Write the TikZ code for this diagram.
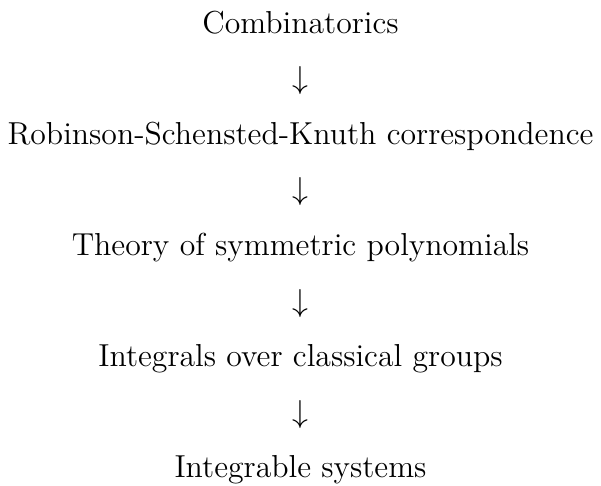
\documentclass[tikz,border=0pt]{standalone}
\usepackage{amsmath}
\begin{document}
\begin{tikzpicture}[node distance=21pt, every node/.style={font=\large, inner sep=0pt, text height=8pt, text depth=2.5pt}]
    \useasboundingbox (0,0) rectangle (227pt,-183.2pt);
    \node[anchor=base] (comb) at (113.5pt,-12.5pt) {Combinatorics};
    \node[below of=comb] (arr1) {$\downarrow$};
    \node[below of=arr1] (rsk) {Robinson-Schensted-Knuth correspondence};
    \node[below of=rsk] (arr2) {$\downarrow$};
    \node[below of=arr2] (sym) {Theory of symmetric polynomials};
    \node[below of=sym] (arr3) {$\downarrow$};
    \node[below of=arr3] (integ) {Integrals over classical groups};
    \node[below of=integ] (arr4) {$\downarrow$};
    \node[below of=arr4] (sys) {Integrable systems};
\end{tikzpicture}
\end{document}
